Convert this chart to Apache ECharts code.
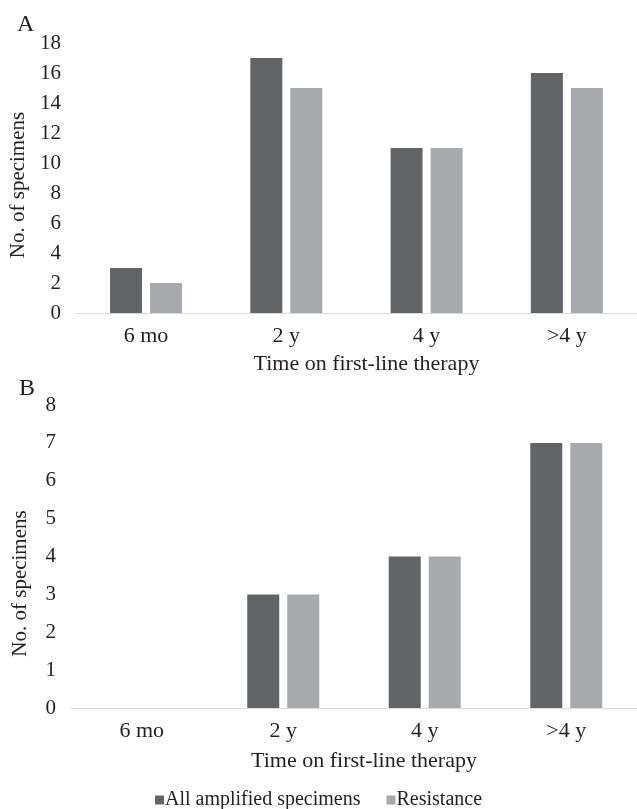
<!DOCTYPE html>
<html>
<head>
<meta charset="utf-8">
<script src="https://cdn.jsdelivr.net/npm/echarts@6/dist/echarts.min.js"></script>
<style>
  html, body { margin: 0; padding: 0; background: #fff; }
  #chart { width: 637px; height: 809px; }
</style>
</head>
<body>
<div id="chart"></div>
<script>
var categories = ["6 mo", "2 y", "4 y", ">4 y"];
var seriesNames = ["All amplified specimens", "Resistance"];
// panel A
var allAmplifiedA = [3, 17, 11, 16];
var resistanceA = [2, 15, 11, 15];
// panel B
var allAmplifiedB = [0, 3, 4, 7];
var resistanceB = [0, 3, 4, 7];

var FONT = "Liberation Serif";
var dark = "#636466";
var light = "#a8a9ac";
var ink = "#231f20";

function xAxisFor(idx) {
  return {
    type: "category",
    gridIndex: idx,
    data: categories,
    axisLine: { lineStyle: { color: "#d9d9d9", width: 1 } },
    axisTick: { show: false },
    axisLabel: { color: ink, fontSize: 22, fontFamily: FONT, margin: 12 },
    name: "Time on first-line therapy",
    nameLocation: "middle",
    nameGap: idx === 0 ? 40 : 42,
    nameTextStyle: { color: ink, fontSize: 22, fontFamily: FONT, padding: [0, 0, 0, 20] }
  };
}
function yAxisFor(idx, max, step, shift) {
  return {
    type: "value",
    gridIndex: idx,
    min: 0,
    max: max,
    interval: step,
    axisLine: { show: false },
    axisTick: { show: false },
    splitLine: { show: false },
    axisLabel: { color: ink, fontSize: 21, fontFamily: FONT, margin: 15 },
    name: "No. of specimens",
    nameLocation: "middle",
    nameGap: 40,
    nameTextStyle: { color: ink, fontSize: 21, fontFamily: FONT, padding: [0, shift, 0, 0] }
  };
}
function barSeries(name, data, idx, color) {
  return {
    name: name,
    type: "bar",
    xAxisIndex: idx,
    yAxisIndex: idx,
    data: data,
    barWidth: 32,
    barGap: "25%",
    itemStyle: { color: color },
    silent: true
  };
}

var myChart = echarts.init(document.getElementById("chart"));
myChart.setOption({
  animation: false,
  textStyle: { fontFamily: FONT },
  title: [
    { text: "A", left: 12, top: 8, textStyle: { fontSize: 24, fontWeight: "normal", color: ink, fontFamily: FONT } },
    { text: "B", left: 14, top: 372, textStyle: { fontSize: 24, fontWeight: "normal", color: ink, fontFamily: FONT } }
  ],
  legend: {
    data: seriesNames,
    left: "center",
    top: 785,
    icon: "rect",
    itemWidth: 9,
    itemHeight: 9,
    itemGap: 26,
    textStyle: { fontSize: 20, color: ink, fontFamily: FONT, padding: [0, 0, 0, -4] }
  },
  grid: [
    { left: 71, right: 0, top: 43, height: 270 },
    { left: 71, right: 0, top: 405, height: 303 }
  ],
  xAxis: [xAxisFor(0), xAxisFor(1)],
  yAxis: [yAxisFor(0, 18, 2, 14), yAxisFor(1, 8, 1, 54)],
  series: [
    barSeries(seriesNames[0], allAmplifiedA, 0, dark),
    barSeries(seriesNames[1], resistanceA, 0, light),
    barSeries(seriesNames[0], allAmplifiedB, 1, dark),
    barSeries(seriesNames[1], resistanceB, 1, light)
  ]
});
window.addEventListener("resize", function () {
  myChart.resize();
});
</script>
</body>
</html>
